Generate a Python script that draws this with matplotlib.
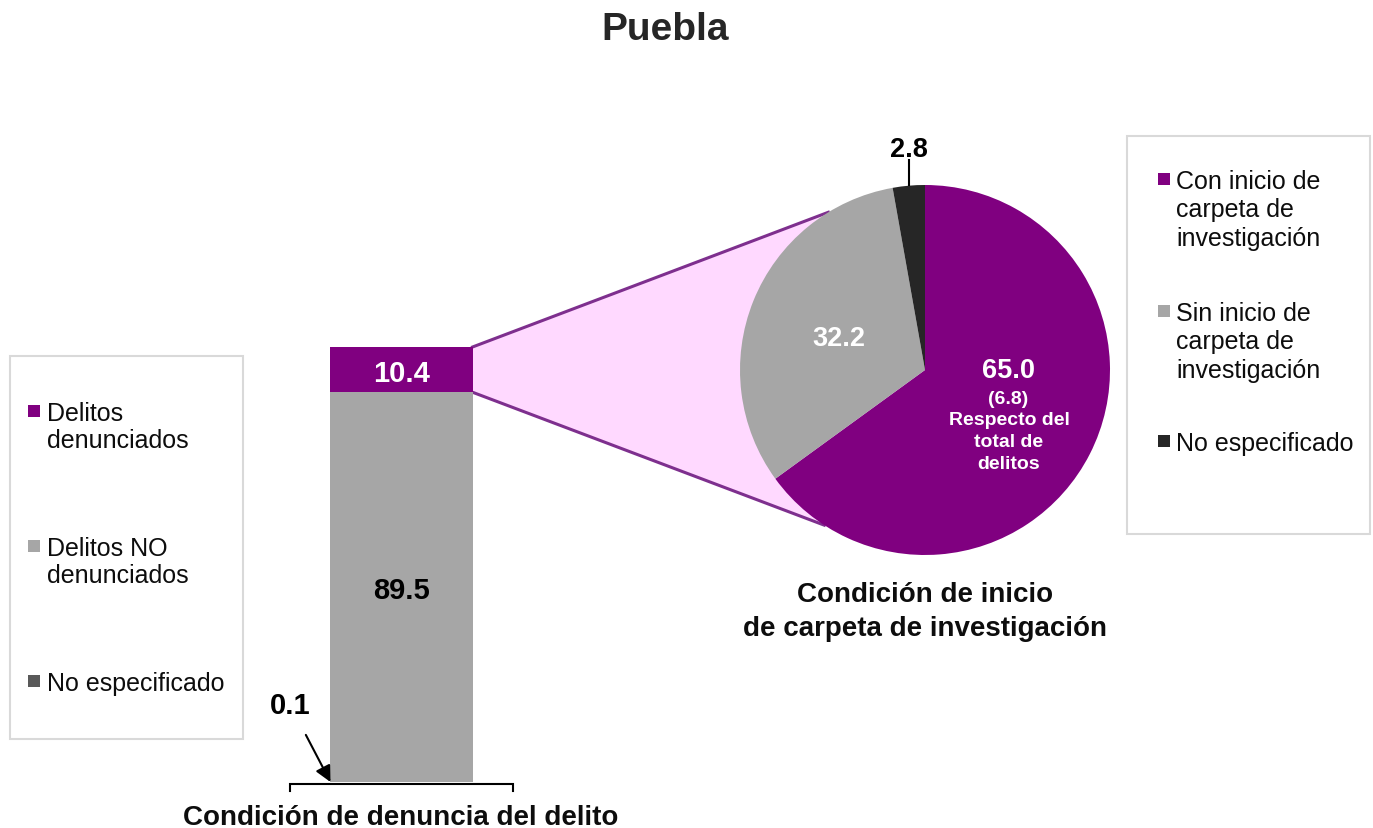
import numpy as np
import matplotlib.pyplot as plt
from matplotlib.patches import Polygon, Rectangle
from matplotlib.lines import Line2D

plt.rcParams['font.family'] = ['Liberation Sans', 'DejaVu Sans']

W, H = 1373, 829

# condición de denuncia del delito (porcentaje)
bar_labels = ['Delitos\ndenunciados', 'Delitos NO\ndenunciados', 'No especificado']
bar_values = [10.4, 89.5, 0.1]
bar_colors = ['#800080', '#A6A6A6', '#595959']

# condición de inicio de carpeta de investigación (porcentaje)
pie_labels = ['Con inicio de\ncarpeta de\ninvestigación',
              'Sin inicio de\ncarpeta de\ninvestigación',
              'No especificado']
pie_values = [65.0, 32.2, 2.8]
pie_colors = ['#800080', '#A6A6A6', '#262626']
share_of_total = 6.8

purple_line = '#7E2F8E'
pink = '#FFD9FF'


def fx(px):
    return px / W


def fy(py):
    return 1 - py / H


def line_stack(x, y0, text, step, **kw):
    # one text per line so the baselines land where we want them
    for i, line in enumerate(text.split('\n')):
        fig.text(fx(x), fy(y0 + i * step), line, va='baseline', **kw)


fig = plt.figure(figsize=(W / 100, H / 100), dpi=100)

# ---- stacked bar ----
ax_bar = fig.add_axes([fx(290), fy(783), fx(513) - fx(290), fy(348) - fy(783)])
bw = 0.637
bottom = 0
for v, c in zip(bar_values[::-1], bar_colors[::-1]):
    ax_bar.bar(0, v, width=bw, bottom=bottom, color=c, linewidth=0)
    bottom += v
ax_bar.set_xlim(-0.5, 0.5)
ax_bar.set_ylim(0, 100)
ax_bar.axis('off')

top_den = 100
low_den = 100 - bar_values[0]
ax_bar.text(0, low_den + bar_values[0] / 2 - 0.7, f'{bar_values[0]:.1f}', ha='center', va='center',
            color='white', fontsize=21, fontweight='bold')
ax_bar.text(0, bar_values[2] + bar_values[1] / 2 - 0.7, f'{bar_values[1]:.1f}', ha='center', va='center',
            color='black', fontsize=21, fontweight='bold')
ax_bar.annotate(f'{bar_values[2]:.1f}', xy=(-bw / 2, 0), xytext=(-0.5, 17.8),
                ha='center', va='center', fontsize=21, fontweight='bold',
                arrowprops=dict(arrowstyle='-|>', color='black', lw=1.5,
                                mutation_scale=24, shrinkA=11, shrinkB=0),
                annotation_clip=False)
# bracket under the bar
ax_bar.plot([-0.5, -0.5, 0.5, 0.5], [-2.1, -0.45, -0.45, -2.1], color='black', lw=1.5,
            clip_on=False, solid_joinstyle='miter')

# ---- pie ----
ax_pie = fig.add_axes([fx(740), fy(556), fx(1110) - fx(740), fy(186) - fy(556)])
ax_pie.patch.set_alpha(0)
wedges, _ = ax_pie.pie(pie_values, colors=pie_colors, startangle=90, counterclock=False,
                       radius=1, wedgeprops=dict(linewidth=0))
ax_pie.set_xlim(-1, 1)
ax_pie.set_ylim(-1, 1)
ax_pie.axis('off')

ax_pie.text(0.449, 0.002, f'{pie_values[0]:.1f}', ha='center', va='center',
            color='white', fontsize=19.5, fontweight='bold')
ax_pie.text(0.449, -0.152, f'({share_of_total:.1f})', ha='center', va='center',
            color='white', fontsize=14, fontweight='bold')
for yy, line in zip([-0.27, -0.384, -0.503], ['Respecto del', 'total de', 'delitos']):
    ax_pie.text(0.454, yy, line, ha='center', va='center', color='white',
                fontsize=14, fontweight='bold')

w = wedges[1]
mid = np.deg2rad((w.theta1 + w.theta2) / 2)
ax_pie.text(0.5 * np.cos(mid), 0.5 * np.sin(mid) - 0.014, f'{pie_values[1]:.1f}',
            ha='center', va='center', color='white', fontsize=19.5, fontweight='bold')

w = wedges[2]
mid = np.deg2rad((w.theta1 + w.theta2) / 2)
xm = np.cos(mid)
ax_pie.plot([xm, xm], [1.0, 1.135], color='black', lw=1.5, clip_on=False)
ax_pie.text(xm, 1.197, f'{pie_values[2]:.1f}', ha='center', va='center',
            color='black', fontsize=19.5, fontweight='bold', clip_on=False)

# ---- connector between bar segment and pie ----
to_fig = fig.transFigure.inverted()


def bar_pt(x, y):
    return to_fig.transform(ax_bar.transData.transform((x, y)))


def pie_pt(ang, r=1.0):
    a = np.deg2rad(ang)
    return to_fig.transform(ax_pie.transData.transform((r * np.cos(a), r * np.sin(a))))


p_bt = bar_pt(bw / 2, top_den)
p_bl = bar_pt(bw / 2, low_den)
p_pu = pie_pt(121.5)
p_pl = pie_pt(237)
p_c = pie_pt(0, 0)
fig.add_artist(Polygon([p_bt, p_pu, p_c, p_pl, p_bl], closed=True, facecolor=pink,
                       edgecolor='none', transform=fig.transFigure, zorder=-2))
for a, b in [(p_bt, p_pu), (p_bl, p_pl)]:
    fig.add_artist(Line2D([a[0], b[0]], [a[1], b[1]], color=purple_line, lw=2.2,
                          transform=fig.transFigure, zorder=-1))

# ---- legends ----
fig.add_artist(Rectangle((fx(10), fy(740)), fx(243) - fx(10), fy(357) - fy(740),
                         transform=fig.transFigure, facecolor='white', edgecolor='#D9D9D9', lw=1.5))
fig.add_artist(Rectangle((fx(1127), fy(535)), fx(1370) - fx(1127), fy(137) - fy(535),
                         transform=fig.transFigure, facecolor='white', edgecolor='#D9D9D9', lw=1.5))

for lab, c, yc in zip(bar_labels, bar_colors, [412, 547, 682]):
    fig.add_artist(Rectangle((fx(28), fy(yc + 6)), fx(12), 12 / H, transform=fig.transFigure,
                             facecolor=c, edgecolor='none'))
    line_stack(47, yc + 9, lab, 27.5, fontsize=18, color='#0D0D0D')

for lab, c, yc in zip(pie_labels, pie_colors, [180, 312, 442]):
    fig.add_artist(Rectangle((fx(1158), fy(yc + 6)), fx(12), 12 / H, transform=fig.transFigure,
                             facecolor=c, edgecolor='none'))
    line_stack(1176, yc + 9, lab, 28.5, fontsize=18, color='#0D0D0D')

# ---- titles ----
fig.text(fx(665), fy(40), 'Puebla', ha='center', va='baseline', fontsize=28,
         fontweight='bold', color='#262626')
line_stack(401, 825, 'Condición de denuncia del delito', 0, ha='center',
           fontsize=20, fontweight='bold', color='#0D0D0D')
line_stack(925, 602, 'Condición de inicio\nde carpeta de investigación', 34, ha='center',
           fontsize=20, fontweight='bold', color='#0D0D0D')

fig.savefig('out.png', dpi=100)
